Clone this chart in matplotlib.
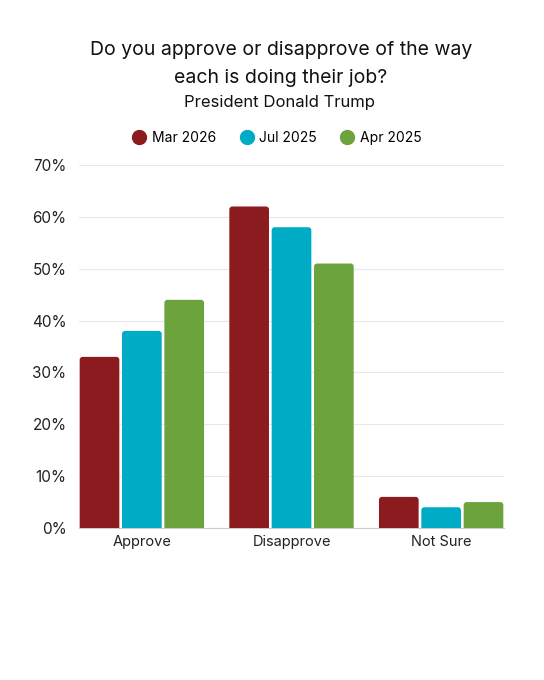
import matplotlib
matplotlib.use("Agg")
import matplotlib.pyplot as plt
from matplotlib.patches import FancyBboxPatch
from matplotlib.lines import Line2D
import numpy as np

categories = ["Approve", "Disapprove", "Not Sure"]
series_names = ["Mar 2026", "Jul 2025", "Apr 2025"]
mar_2026 = [33, 62, 6]
jul_2025 = [38, 58, 4]
apr_2025 = [44, 51, 5]
y_ticks = [0, 10, 20, 30, 40, 50, 60, 70]
y_tick_labels = ["0%", "10%", "20%", "30%", "40%", "50%", "60%", "70%"]

colors = ["#8B1B1F", "#00ABC5", "#6CA33D"]
series = [mar_2026, jul_2025, apr_2025]

plt.rcParams['font.family'] = ['Inter', 'DejaVu Sans']

fig = plt.figure(figsize=(5.44, 6.8), dpi=100)
ax = fig.add_axes([79/544, 1-528/680, (504-79)/544, (528-165)/680])

x = np.arange(len(categories))
bw = 0.265
step = 0.283
ax.set_xlim(-0.42, len(categories) - 1 + 0.42)
ax.set_ylim(0, 70)

px_x = 1/150.0
px_y = 70/363.0
r_px = 3.0
rx = r_px * px_x
aspect = (r_px * px_y) / rx

for i, (vals, c) in enumerate(zip(series, colors)):
    bars = ax.bar(x + (i - 1) * step, vals, width=bw, color=c)
    for b in bars:
        b.set_visible(False)
        bx, by = b.get_x(), b.get_y()
        w, h = b.get_width(), b.get_height()
        p = FancyBboxPatch((bx, by - 2), w, h + 2,
                           boxstyle=f"round,pad=0,rounding_size={rx}",
                           mutation_aspect=aspect, facecolor=c,
                           edgecolor="none", zorder=3)
        ax.add_patch(p)

ax.set_yticks(y_ticks)
ax.set_yticklabels(y_tick_labels)
ax.set_xticks(x)
ax.set_xticklabels(categories)
ax.tick_params(axis='both', length=0, labelsize=10.5, colors="#222222")
ax.tick_params(axis='y', labelsize=11, pad=9)
ax.tick_params(axis='x', pad=5)
for s in ["top", "right", "left"]:
    ax.spines[s].set_visible(False)
ax.spines["bottom"].set_color("#cccccc")
ax.spines["bottom"].set_linewidth(0.8)
ax.yaxis.grid(True, color="#e8e8e8", linewidth=0.8, zorder=0)
ax.set_axisbelow(True)

cx = 281/544
fig.text(cx, 1-50/680, "Do you approve or disapprove of the way", ha="center", va="center",
         fontsize=14.0, color="#111111")
fig.text(cx, 1-78/680, "each is doing their job?", ha="center", va="center",
         fontsize=14.0, color="#111111")
fig.text(280/544, 1-102/680, "President Donald Trump", ha="center", va="center",
         fontsize=12, color="#111111")

handles = [Line2D([0], [0], marker="o", linestyle="none", markersize=10,
                  markerfacecolor=c, markeredgecolor=c) for c in colors]
fig.legend(handles, series_names, loc="center", bbox_to_anchor=(277/544, 1-138/680),
           ncol=3, frameon=False, fontsize=10, handletextpad=0.4,
           columnspacing=1.7, handlelength=1.0)

fig.savefig("out.png", dpi=100, facecolor="white")
